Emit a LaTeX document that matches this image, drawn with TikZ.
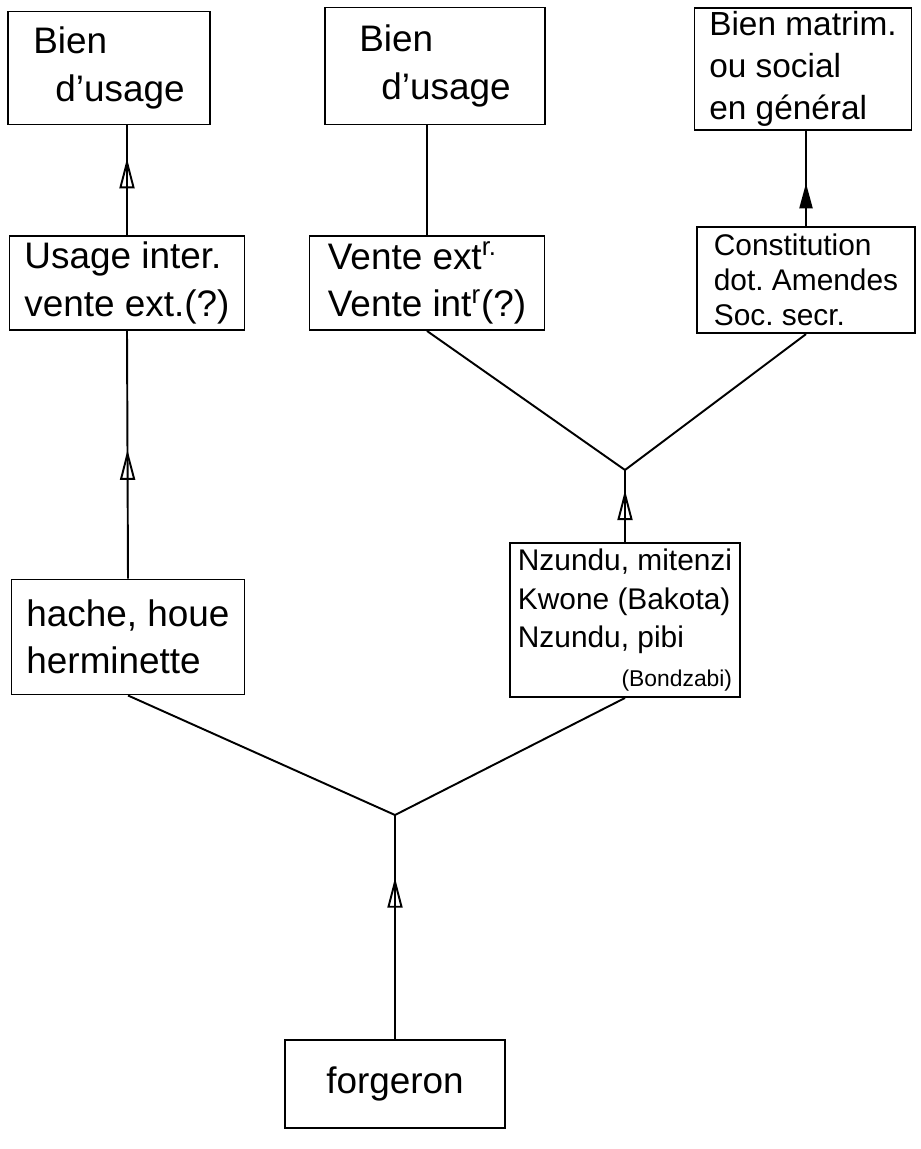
\documentclass[tikz,border=0pt]{standalone}
\usepackage{fontspec}
\setmainfont{Liberation Sans}
\frenchspacing
\usetikzlibrary{arrows.meta,positioning,calc,decorations.markings}

\begin{document}
\begin{tikzpicture}[
    box/.style={draw, rectangle, line width=1.1pt, align=left, inner sep=3pt, font=\fontsize{21}{27}\selectfont},
    narrow/.style={box, inner sep=2pt, font=\fontsize{19}{24}\selectfont},
    tight/.style={box, inner xsep=2pt, inner ysep=4pt, font=\fontsize{17}{20}\selectfont},
    small/.style={box, inner sep=2pt, font=\fontsize{17}{22}\selectfont},
    link/.style={line width=1.1pt},
    midarrow/.style={link, decoration={markings, mark=at position #1 with {\arrow{Triangle[open, length=6mm, width=3mm, line width=1.1pt]}}}, postaction={decorate}},
    midarrow/.default=0.5,
    fullarrow/.style={link, decoration={markings, mark=at position #1 with {\arrow{Triangle[length=5mm, width=2.6mm]}}}, postaction={decorate}}
]
\useasboundingbox (0,0) rectangle (18.42,-22.98);

% Top row: final goods
\node[box, minimum width=4.04cm, minimum height=2.26cm] (bien1) at (2.18,-1.36) {Bien\\\hspace*{0.6em}d'usage};
\node[box, minimum width=4.4cm, minimum height=2.34cm] (bien2) at (8.70,-1.32) {Bien\\\hspace*{0.6em}d'usage};
\node[narrow, minimum width=4.34cm, minimum height=2.36cm] (bien3) at (16.06,-1.38) {Bien matrim.\\ou social\\en général};

% Second row: uses
\node[box, minimum width=4.7cm, minimum height=1.88cm] (usage) at (2.54,-5.66) {Usage inter.\\vente ext.(?)};
\node[box, minimum width=4.7cm, minimum height=1.88cm] (vente) at (8.54,-5.66) {Vente ext\textsuperscript{r.}\\Vente int\textsuperscript{r}(?)};
\node[tight, minimum width=4.36cm, minimum height=1.78cm] (dot) at (16.12,-5.6) {Constitution\\dot. Amendes\\Soc. secr.};

% Third row: products
\node[box, minimum width=4.66cm, minimum height=2.3cm] (outils) at (2.56,-12.74) {hache, houe\\herminette};
\node[small, minimum width=4.6cm, minimum height=3.08cm] (nzundu) at (12.5,-12.4) {Nzundu, mitenzi\\Kwone (Bakota)\\Nzundu, pibi\\\hfill{\fontsize{13}{15}\selectfont(Bondzabi)}};

% Bottom: producer
\node[box, minimum width=4.4cm, minimum height=1.76cm] (forgeron) at (7.9,-21.68) {forgeron};

% Forks
\coordinate (fork1) at (7.9,-16.3);
\coordinate (fork2) at (12.5,-9.4);

% Connectors
\draw[midarrow=0.72] (forgeron.north) -- (fork1);
\draw[link] (fork1) -- (outils.south);
\draw[link] (fork1) -- (nzundu.south);
\draw[midarrow=0.52] (outils.north) -- (usage.south);
\draw[midarrow=0.7] (usage.north) -- (usage.north |- bien1.south);
\draw[midarrow=0.72] (nzundu.north) -- (fork2);
\draw[link] (fork2) -- (vente.south);
\draw[link] (fork2) -- (dot.south);
\draw[link] (vente.north) -- (vente.north |- bien2.south);
\draw[fullarrow=0.45] (dot.north) -- (dot.north |- bien3.south);

\end{tikzpicture}
\end{document}
